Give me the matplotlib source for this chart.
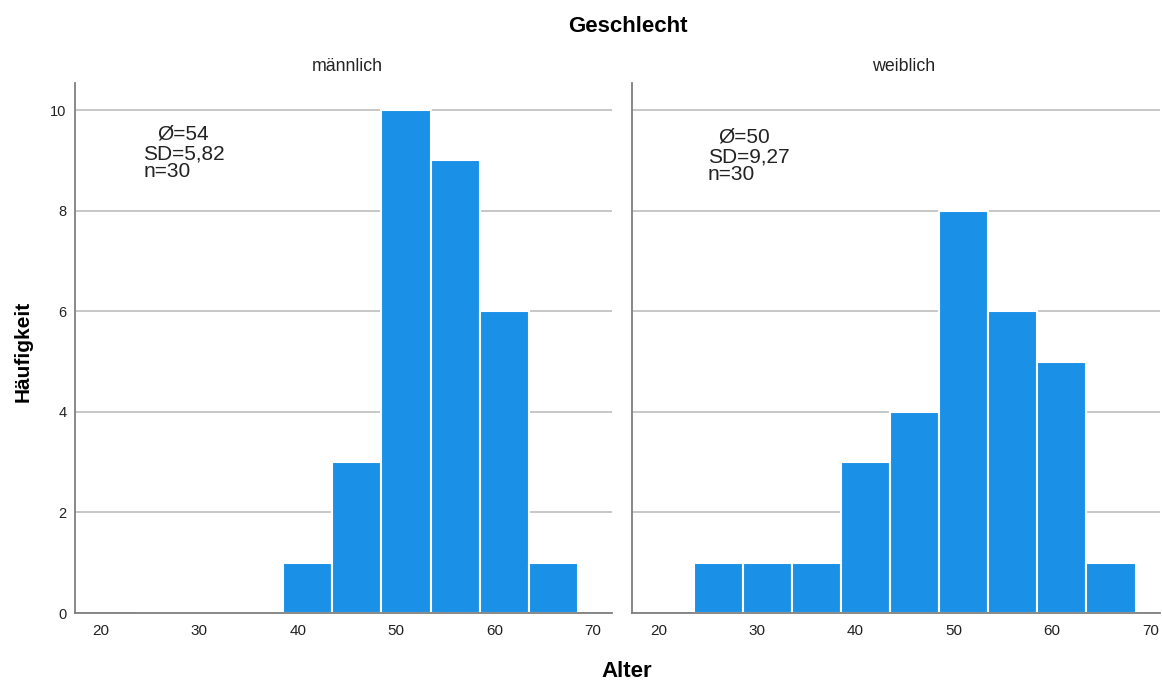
import numpy as np
import matplotlib.pyplot as plt

# Histogram of age by gender (SPSS style)
bin_edges = [23.5, 28.5, 33.5, 38.5, 43.5, 48.5, 53.5, 58.5, 63.5, 68.5]
counts_m = [0, 0, 0, 1, 3, 10, 9, 6, 1]
counts_w = [1, 1, 1, 3, 4, 8, 6, 5, 1]
panel_labels = ["männlich", "weiblich"]
stats_m = ["Ø=54", "SD=5,82", "n=30"]
stats_w = ["Ø=50", "SD=9,27", "n=30"]
x_ticks = [20, 30, 40, 50, 60, 70]
y_ticks = [0, 2, 4, 6, 8, 10]

BAR_COLOR = "#1A90E6"
GRID_COLOR = "#BDBDBD"
SPINE_COLOR = "#7F7F7F"
TEXT_COLOR = "#222222"

plt.rcParams['font.family'] = ['Liberation Sans', 'DejaVu Sans']

fig = plt.figure(figsize=(11.62, 6.8), dpi=100)
ax_m = fig.add_axes([0.0645, 0.0985, 0.462, 0.7795])
ax_w = fig.add_axes([0.544, 0.0985, 0.4544, 0.7795])

lefts = np.array(bin_edges[:-1])
widths = np.diff(bin_edges)

panels = [
    (ax_m, counts_m, (17.36, 71.9)),
    (ax_w, counts_w, (17.25, 71.0)),
]

for ax, counts, xlim in panels:
    ax.set_axisbelow(True)
    ax.grid(axis='y', color=GRID_COLOR, linewidth=1.2)
    ax.bar(lefts, counts, width=widths, align='edge', color=BAR_COLOR,
           edgecolor='white', linewidth=1.5, zorder=2)
    ax.set_xlim(*xlim)
    ax.set_ylim(0, 10.54)
    ax.set_xticks(x_ticks)
    ax.set_yticks(y_ticks)
    ax.tick_params(axis='x', length=0, labelsize=11, colors=TEXT_COLOR, pad=8)
    ax.tick_params(axis='y', length=0, labelsize=10.5, colors=TEXT_COLOR, pad=6)
    for side in ('top', 'right'):
        ax.spines[side].set_visible(False)
    for side in ('left', 'bottom'):
        ax.spines[side].set_color(SPINE_COLOR)
        ax.spines[side].set_linewidth(1.3)

ax_w.tick_params(labelleft=False)

# panel headers
fig.text(347.5 / 1162, 0.8956, panel_labels[0], ha='center', va='baseline',
         fontsize=12.8, color=TEXT_COLOR)
fig.text(903.5 / 1162, 0.8956, panel_labels[1], ha='center', va='baseline',
         fontsize=12.8, color=TEXT_COLOR)

# stats annotations, SPSS-like staggered lines
stat_pos_m = [(0.1527, 0.8925), (0.1266, 0.8547), (0.1285, 0.8226)]
stat_pos_w = [(0.163, 0.8868), (0.144, 0.849), (0.142, 0.817)]
for ax, stats, pos in [(ax_m, stats_m, stat_pos_m), (ax_w, stats_w, stat_pos_w)]:
    for txt, (x0, y0) in zip(stats, pos):
        ax.text(x0, y0, txt, transform=ax.transAxes, fontsize=15,
                ha='left', va='baseline', color=TEXT_COLOR)

fig.text(627.5 / 1162, 0.953, "Geschlecht", ha='center', va='baseline',
         fontsize=16, fontweight='bold')
fig.text(0.020, 0.483, "Häufigkeit", ha='center', va='center',
         rotation=90, fontsize=15, fontweight='bold')
fig.text(626.5 / 1162, 0.004, "Alter", ha='center', va='baseline',
         fontsize=16, fontweight='bold')

fig.savefig("out.png", dpi=100)
